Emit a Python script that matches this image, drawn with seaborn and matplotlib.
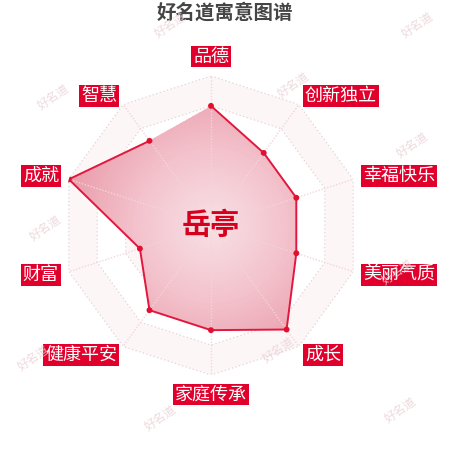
import numpy as np
import pandas as pd
import seaborn as sns
import matplotlib.pyplot as plt
from matplotlib.colors import LinearSegmentedColormap

# 寓意维度与得分
dimensiones = ['品德', '创新独立', '幸福快乐', '美丽气质', '成长',
               '家庭传承', '健康平安', '财富', '成就', '智慧']
puntuaciones = [80, 60, 60, 60, 86, 70, 70, 50, 100, 70]
nombre = '岳亭'
titulo = '好名道寓意图谱'
marca = '好名道'
max_valor = 100
niveles = [20, 40, 60, 80, 100]

sns.set_theme(style='white')
plt.rcParams['font.family'] = ['Noto Sans CJK SC', 'DejaVu Sans']

rojo = '#e0002b'
n = len(dimensiones)
angulos = np.linspace(0, 2 * np.pi, n, endpoint=False)
df = pd.DataFrame({'angulo': np.append(angulos, angulos[0]),
                   'valor': puntuaciones + [puntuaciones[0]]})

fig = plt.figure(figsize=(4.5, 4.5), dpi=100)
cx, cy, rad = 211 / 450, 1 - 225.5 / 450, 149.5 / 450
ax = fig.add_axes([cx - rad, cy - rad, 2 * rad, 2 * rad], projection='polar')
ax.set_theta_zero_location('N')
ax.set_theta_direction(-1)
ax.set_ylim(0, max_valor)
ax.grid(False)
ax.spines['polar'].set_visible(False)
ax.set_xticks([])
ax.set_yticks([])
ax.set_facecolor('none')

# anillos (decágonos) y radios
cierre = np.append(angulos, angulos[0])
for nivel in niveles:
    ax.plot(cierre, [nivel] * (n + 1), color='#e3d3d7', lw=0.9, ls=(0, (1, 2)), zorder=1)
for a in angulos:
    ax.plot([a, a], [0, max_valor], color='#f3d5db', lw=1.0, ls=(0, (1, 1.2)), zorder=3.5)

# fondo tenue entre anillos
for nivel_ext, nivel_int in [(100, 80), (60, 40), (20, 0)]:
    ax.fill(np.append(cierre, cierre[::-1]),
            [nivel_ext] * (n + 1) + [nivel_int] * (n + 1),
            color='#fdf6f7', lw=0, zorder=0)

# polígono con degradado radial
poligono = ax.fill(df['angulo'], df['valor'], facecolor='none', edgecolor='none', zorder=2)[0]
cmap = LinearSegmentedColormap.from_list('rosa', ['#f8e0e5', '#f3c2cc', '#e99caa'])
tt, rr = np.meshgrid(np.linspace(0, 2 * np.pi, 361), np.linspace(0, max_valor, 101))
malla = ax.pcolormesh(tt, rr, rr[:-1, :-1], cmap=cmap, shading='flat', zorder=2)
malla.set_clip_path(poligono)

sns.lineplot(data=df, x='angulo', y='valor', ax=ax, sort=False, color='#e3173e',
             linewidth=1.4, zorder=4)
sns.scatterplot(x=angulos, y=puntuaciones, ax=ax, color='#e0102f', s=18,
                edgecolor='none', zorder=5)
ax.set_xlabel('')
ax.set_ylabel('')

# etiquetas de las dimensiones
for a, etiqueta in zip(angulos, dimensiones):
    s, c = np.sin(a), np.cos(a)
    ha = 'center' if abs(s) < 0.1 else ('left' if s > 0 else 'right')
    va = 'bottom' if c > 0.95 else ('top' if c < -0.95 else 'center')
    ax.text(a, max_valor * 1.07, etiqueta, ha=ha, va=va, color='white', fontsize=13,
            bbox=dict(boxstyle='square,pad=0.1', fc=rojo, ec='none'), zorder=6)

ax.text(0, 0, nombre, ha='center', va='center', color='#d6001c', fontsize=21,
        fontweight='bold', zorder=7)

fig.text(0.5, 1 - 13 / 450, titulo, ha='center', va='center', color='#454545',
         fontsize=14, fontweight='bold')

# marcas de agua
for x, y in [(53, 97), (170, 25), (293, 85), (417, 25), (412, 145), (45, 228),
             (397, 272), (33, 358), (278, 350), (160, 418), (400, 410)]:
    fig.text(x / 450, 1 - y / 450, marca, ha='center', va='center', color='#ead3d7',
             fontsize=8.5, rotation=35, alpha=0.85)

fig.savefig('out.png', dpi=100)
